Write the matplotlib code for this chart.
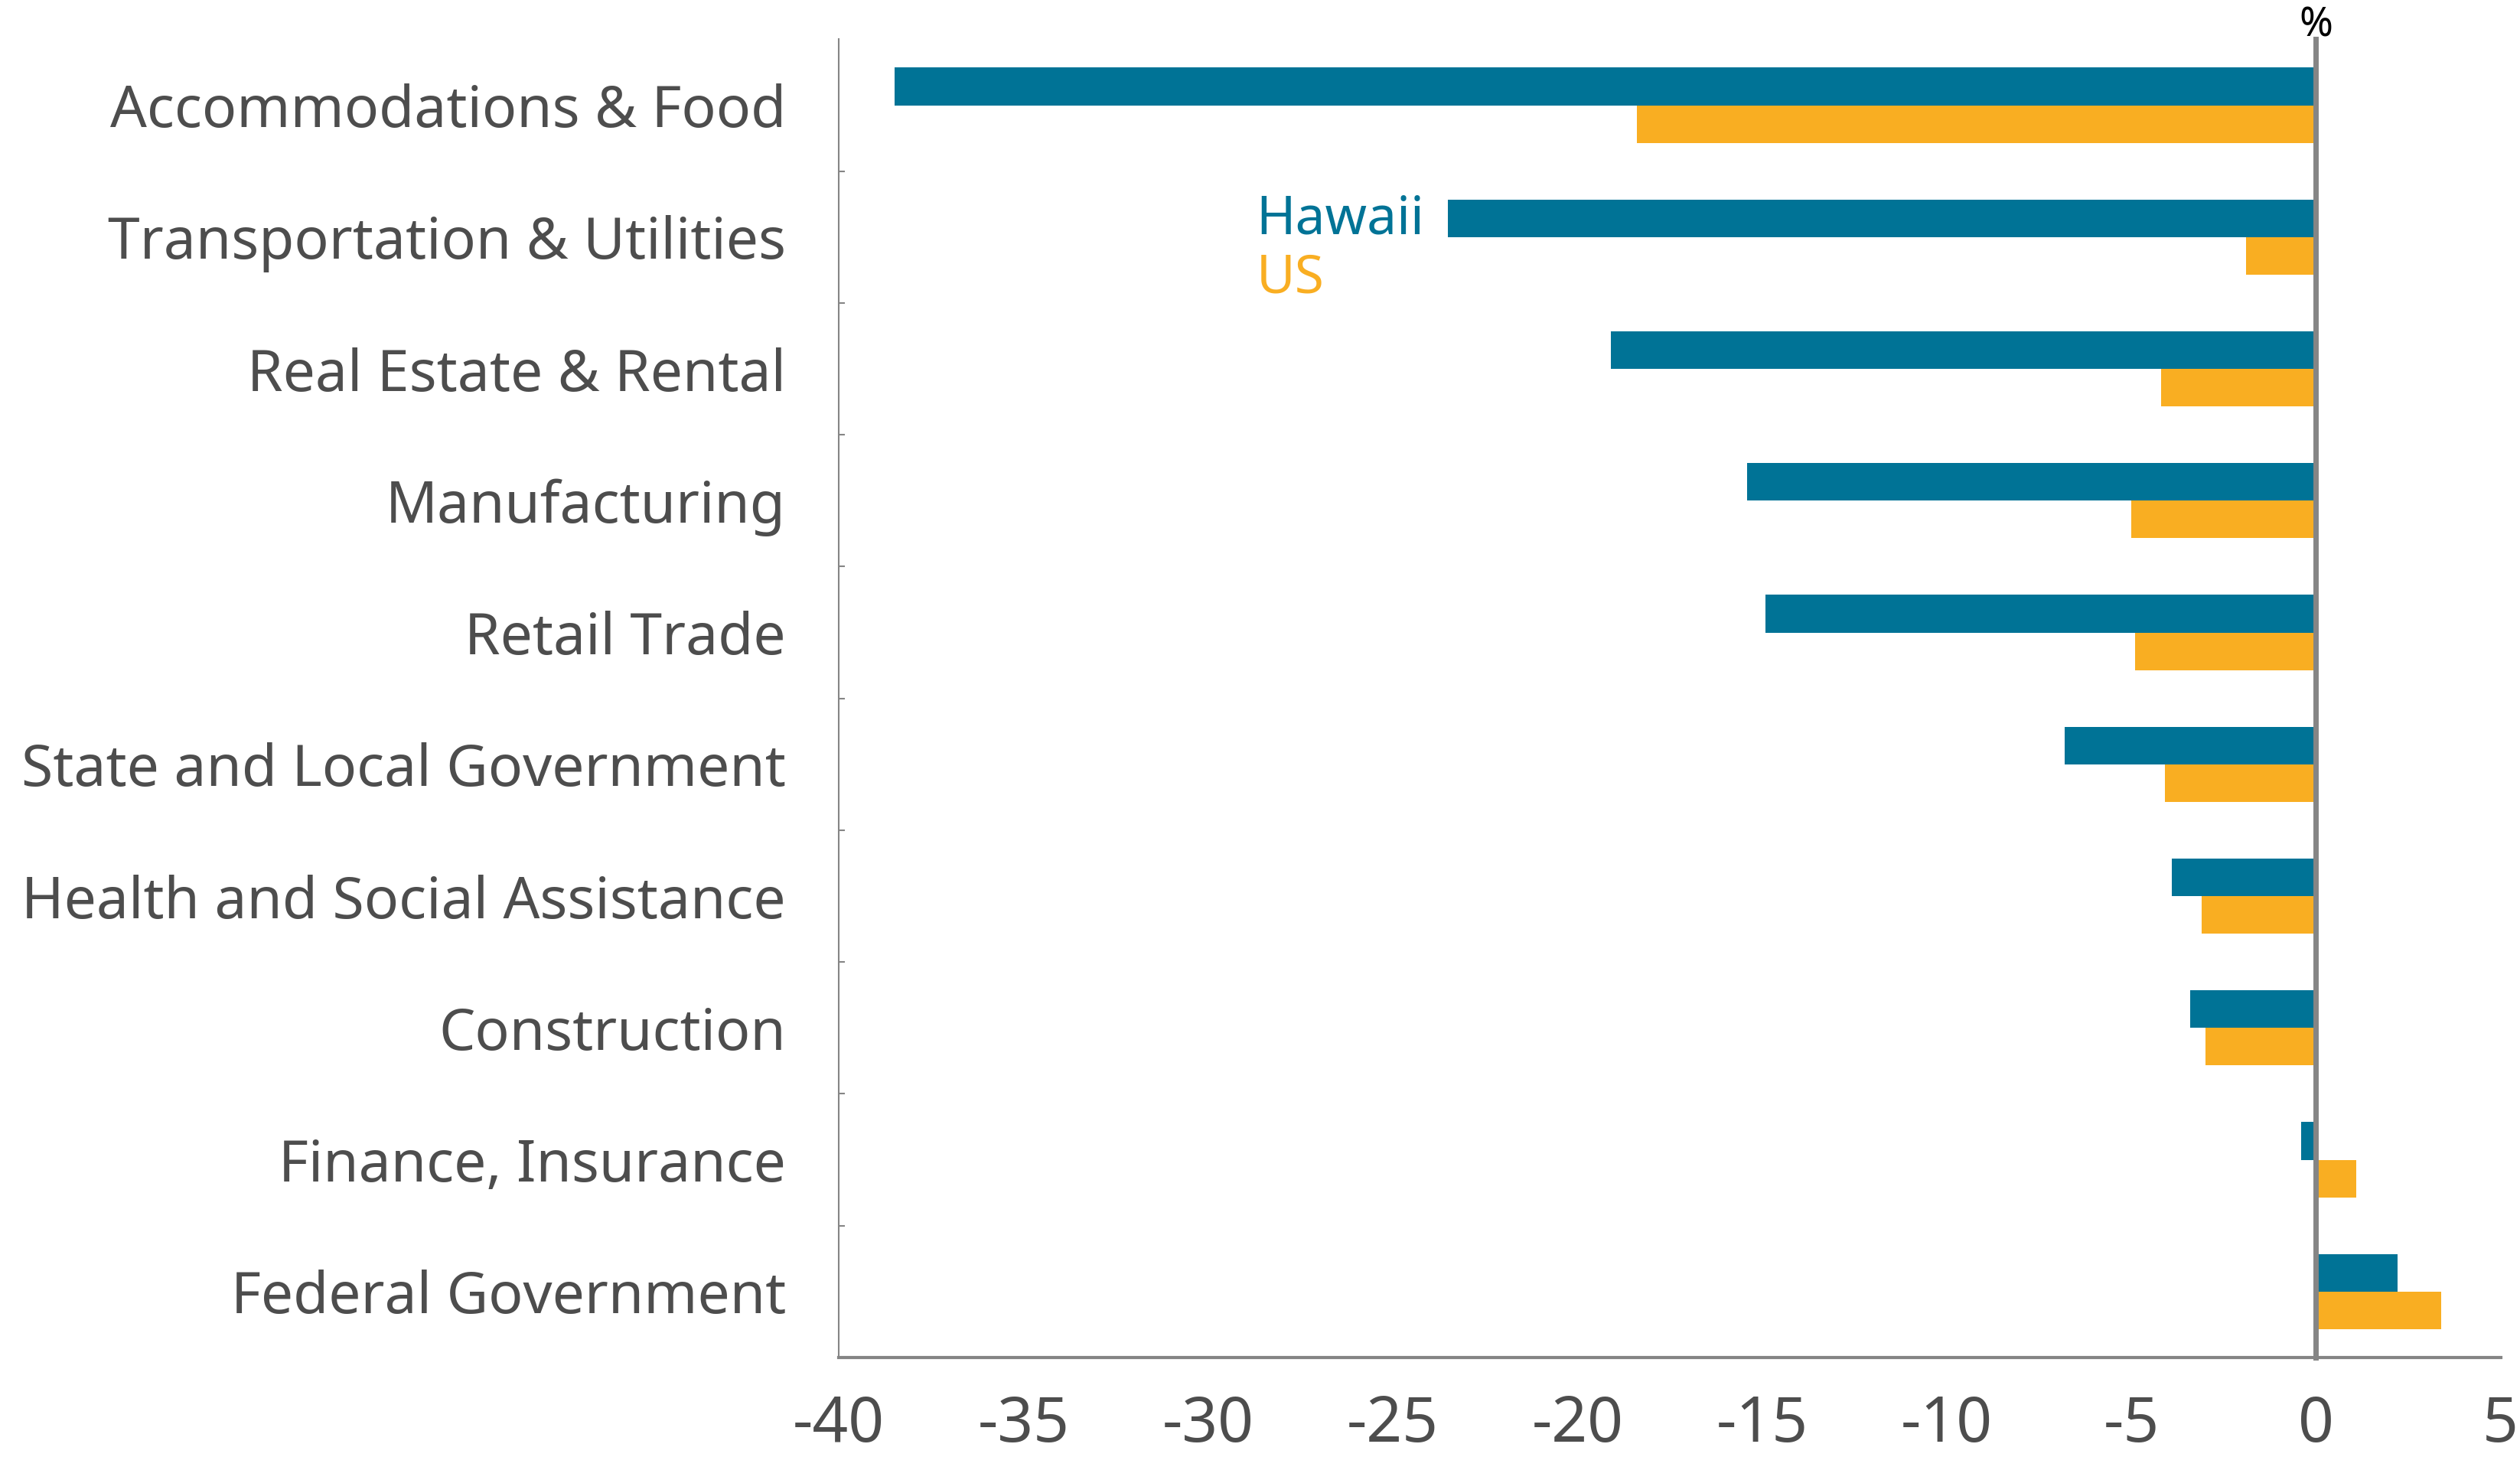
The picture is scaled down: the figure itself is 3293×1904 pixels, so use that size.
import matplotlib
matplotlib.use("Agg")
import matplotlib.pyplot as plt
from matplotlib import font_manager
import numpy as np

TEAL = "#007396"
GOLD = "#F9AE22"
TEXT_GRAY = "#4D4D4D"
AXIS_GRAY = "#858585"

categories = [
    "Accommodations & Food",
    "Transportation & Utilities",
    "Real Estate & Rental",
    "Manufacturing",
    "Retail Trade",
    "State and Local Government",
    "Health and Social Assistance",
    "Construction",
    "Finance, Insurance",
    "Federal Government",
]
hawaii = [-38.5, -23.5, -19.1, -15.4, -14.9, -6.8, -3.9, -3.4, -0.4, 2.2]
us = [-18.4, -1.9, -4.2, -5.0, -4.9, -4.1, -3.1, -3.0, 1.1, 3.4]
x_ticks = [-40, -35, -30, -25, -20, -15, -10, -5, 0, 5]

installed = {f.name for f in font_manager.fontManager.ttflist}
label_font = "Noto Sans"
tick_font = "Liberation Sans Narrow" if "Liberation Sans Narrow" in installed else "Noto Sans"

fig = plt.figure(figsize=(32.93, 19.04), dpi=100, facecolor="white")
ax = fig.add_axes([0.3329, 0.0683, 0.6594, 0.9047])

y = np.arange(len(categories))
bar_h = 0.285

ax.barh(y - bar_h / 2, hawaii, height=bar_h, color=TEAL, zorder=2)
ax.barh(y + bar_h / 2, us, height=bar_h, color=GOLD, zorder=2)

# zero line
ax.axvline(0, color=AXIS_GRAY, linewidth=5, zorder=3, clip_on=False)

ax.set_xlim(-40, 5)
ax.set_ylim(len(categories) - 0.5, -0.5)

ax.set_xticks(x_ticks)
ax.set_xticklabels([str(t) for t in x_ticks], family=tick_font,
                   fontsize=59, color=TEXT_GRAY)
ax.tick_params(axis="x", length=0, pad=34)

ax.set_yticks(y)
ax.set_yticklabels(categories, family=label_font, fontsize=54, color=TEXT_GRAY)
ax.tick_params(axis="y", which="major", length=0, pad=50)
ax.set_yticks(np.arange(0.5, len(categories) - 0.5, 1), minor=True)
ax.tick_params(axis="y", which="minor", direction="in", length=6,
               width=1.5, color=AXIS_GRAY)

for side in ["top", "right"]:
    ax.spines[side].set_visible(False)
ax.spines["left"].set_color(AXIS_GRAY)
ax.spines["left"].set_linewidth(1.5)
ax.spines["bottom"].set_color(AXIS_GRAY)
ax.spines["bottom"].set_linewidth(3)

# legend as coloured text
ax.text(-28.7, 0.87, "Hawaii", color=TEAL, family=label_font, fontsize=50,
        ha="left", va="center")
ax.text(-28.7, 1.32, "US", color=GOLD, family=label_font, fontsize=50,
        ha="left", va="center")

ax.annotate("%", xy=(0, 1.0), xycoords=("data", "axes fraction"),
            xytext=(0, 3), textcoords="offset points",
            ha="center", va="baseline", fontsize=38, color="black",
            family=tick_font)

plt.savefig("out.png", dpi=100, facecolor=fig.get_facecolor())
plt.close(fig)
